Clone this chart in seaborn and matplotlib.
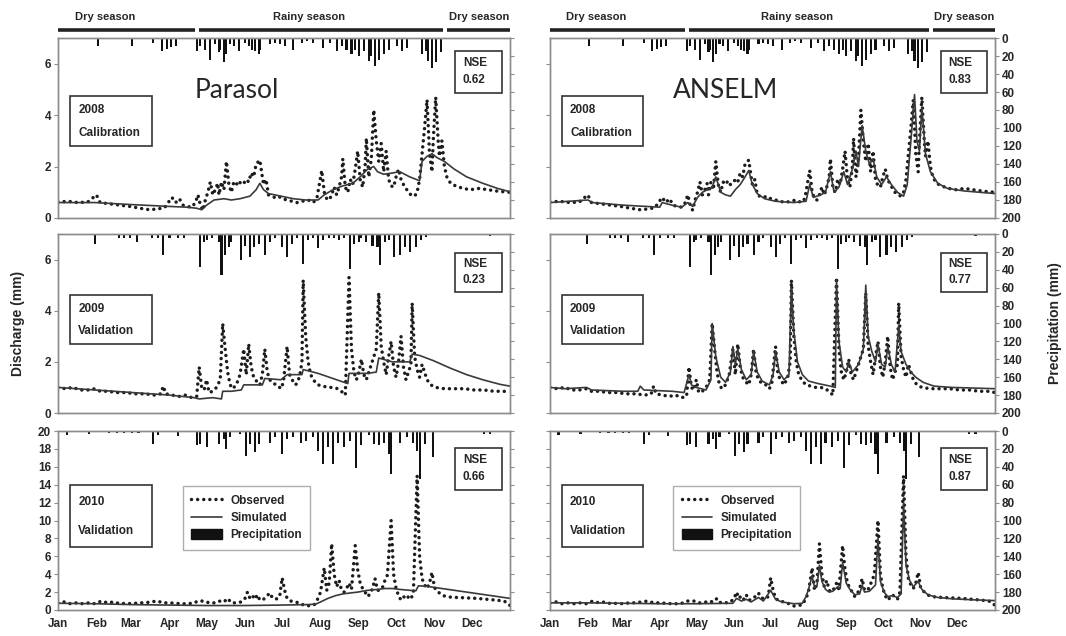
import matplotlib
matplotlib.use("Agg")
import matplotlib.pyplot as plt
import seaborn as sns
from matplotlib.patches import Rectangle, Patch
from matplotlib.lines import Line2D

# ---------------- data ----------------
month_ticks = [0, 31, 59, 90, 120, 151, 181, 212, 243, 273, 304, 334]
month_labels = ["Jan", "Feb", "Mar", "Apr", "May", "Jun", "Jul", "Aug", "Sep", "Oct", "Nov", "Dec"]
years = ["2008", "2009", "2010"]
periods = ["Calibration", "Validation", "Validation"]
models = ["Parasol", "ANSELM"]
nse_parasol = ["0.62", "0.23", "0.66"]
nse_anselm = ["0.83", "0.77", "0.87"]
season_names = ["Dry season", "Rainy season", "Dry season"]
season_start = [0, 114, 314]
season_end = [111, 311, 365]
season_label_day = [38, 203, 340]

# precipitation events (day of year, mm)
precip2008_day = [32, 60, 77, 84, 88, 91, 95, 112, 115, 119, 123, 127, 130, 131, 134, 136, 139, 142, 146, 151, 154,
                  157, 159, 162, 163, 171, 175, 179, 183, 190, 197, 201, 206, 214, 220, 225, 229, 233, 237, 240,
                  243, 247, 251, 253, 256, 259, 263, 267, 274, 278, 282, 294, 297, 299, 302, 305, 309]
precip2008_mm = [9, 9, 5, 14, 12, 10, 9, 14, 9, 13, 24, 7, 16, 13, 27, 18, 7, 9, 14, 5, 9,
                 13, 14, 18, 13, 7, 5, 7, 9, 13, 5, 3, 5, 11, 5, 14, 9, 13, 18, 13,
                 20, 14, 26, 20, 31, 24, 18, 13, 9, 14, 11, 18, 14, 26, 33, 27, 16]
precip2009_day = [30, 49, 53, 58, 64, 76, 81, 85, 90, 97, 102, 115, 118, 120, 124, 130, 132, 135, 138, 140, 148,
                  151, 155, 158, 162, 167, 171, 175, 181, 185, 189, 193, 198, 202, 206, 210, 214, 219, 223, 227,
                  231, 236, 239, 243, 245, 249, 254, 258, 260, 264, 267, 271, 276, 280, 284, 289, 293, 297, 349]
precip2009_mm = [11, 4, 4, 4, 9, 4, 5, 24, 4, 4, 4, 37, 9, 7, 5, 9, 46, 24, 14, 9, 29,
                 13, 26, 14, 11, 24, 9, 5, 14, 26, 11, 5, 33, 7, 5, 16, 7, 5, 5, 7,
                 5, 39, 11, 9, 5, 9, 13, 14, 35, 9, 7, 26, 24, 14, 20, 14, 7, 3, 2]
precip2010_day = [7, 25, 41, 48, 53, 60, 65, 77, 81, 97, 112, 115, 120, 130, 134, 136, 139, 147, 152, 155, 159,
                  162, 171, 175, 181, 185, 190, 196, 200, 206, 210, 214, 218, 222, 226, 231, 236, 241, 245, 251,
                  255, 259, 263, 267, 269, 276, 282, 287, 290, 292, 296, 303, 344, 349]
precip2010_mm = [4, 3, 2, 2, 2, 2, 2, 15, 4, 6, 16, 14, 18, 14, 9, 20, 7, 3, 28, 14, 24,
                 14, 13, 7, 26, 9, 7, 13, 11, 7, 22, 37, 18, 37, 13, 18, 11, 41, 16, 5,
                 14, 16, 13, 26, 48, 13, 7, 13, 22, 54, 14, 29, 3, 3]

# observed discharge (mm)
obs2008_day = [0, 8, 16, 24, 31, 34, 42, 50, 58, 66, 74, 80, 86, 89, 92, 95, 98, 101, 104, 108, 111, 113, 115, 117,
               119, 121, 123, 125, 127, 129, 130, 132, 134, 136, 138, 140, 142, 144, 146, 148, 150, 152, 154, 156,
               158, 160, 163, 165, 166, 168, 170, 172, 175, 178, 181, 185, 189, 193, 197, 202, 206, 209, 211, 213,
               215, 217, 219, 221, 223, 225, 227, 229, 230, 232, 234, 236, 238, 240, 242, 244, 246, 248, 249, 251,
               253, 255, 257, 259, 261, 263, 265, 267, 269, 271, 273, 275, 277, 279, 281, 283, 285, 288, 290, 292,
               294, 296, 298, 300, 302, 303, 305, 307, 308, 310, 312, 314, 317, 321, 327, 333, 340, 347, 354, 360, 365]
obs2008_val = [0.62, 0.65, 0.6, 0.62, 0.9, 0.6, 0.55, 0.5, 0.45, 0.38, 0.32, 0.35, 0.4, 0.6, 0.8, 0.6, 0.75, 0.5,
               0.45, 0.42, 0.6, 0.9, 0.5, 0.3, 0.7, 1.0, 1.4, 0.9, 1.1, 1.35, 0.9, 1.4, 1.1, 2.2, 1.3, 1.0, 1.4, 1.3,
               1.45, 1.3, 1.35, 1.5, 1.4, 1.75, 1.6, 2.1, 2.25, 1.6, 1.3, 1.5, 0.9, 0.85, 0.8, 0.85, 0.75, 0.7, 0.65,
               0.6, 0.65, 0.7, 0.6, 0.75, 1.3, 1.85, 1.0, 0.75, 0.7, 0.9, 1.2, 0.9, 1.2, 1.6, 2.3, 1.2, 1.0, 1.5,
               1.3, 1.9, 2.6, 1.5, 1.2, 2.0, 3.1, 1.6, 2.3, 4.2, 3.0, 2.2, 2.9, 1.8, 2.6, 1.5, 1.25, 1.2, 1.6, 1.9,
               1.5, 1.3, 1.15, 1.0, 0.9, 0.85, 1.0, 1.5, 2.5, 3.5, 4.6, 2.5, 1.8, 3.0, 4.7, 3.0, 2.4, 3.0, 2.0, 1.6,
               1.35, 1.25, 1.15, 1.1, 1.15, 1.1, 1.05, 1.02, 1.0]
obs2009_day = [0, 6, 12, 18, 24, 30, 34, 40, 48, 55, 62, 70, 78, 83, 85, 87, 92, 98, 103, 108, 112, 114, 116, 118,
               120, 122, 125, 128, 131, 133, 135, 137, 139, 141, 144, 147, 150, 152, 154, 156, 158, 161, 163, 165,
               167, 169, 171, 174, 177, 180, 182, 185, 187, 189, 192, 195, 197, 198, 200, 202, 204, 207, 210, 214,
               218, 222, 226, 230, 232, 235, 237, 239, 241, 243, 245, 247, 249, 251, 253, 255, 257, 259, 261, 263,
               265, 267, 269, 271, 273, 275, 277, 279, 281, 283, 285, 286, 288, 290, 292, 294, 296, 298, 301, 305,
               312, 320, 328, 336, 344, 352, 360, 365]
obs2009_val = [1.0, 0.95, 1.0, 0.9, 0.9, 0.95, 0.85, 0.85, 0.8, 0.8, 0.75, 0.75, 0.7, 0.75, 1.05, 0.75, 0.7, 0.65,
               0.7, 0.6, 0.65, 1.8, 1.0, 0.9, 1.3, 0.8, 0.85, 1.0, 1.3, 3.5, 2.5, 1.6, 1.1, 0.95, 1.1, 1.5, 2.5, 1.5,
               2.7, 1.8, 1.4, 1.2, 1.1, 1.5, 2.5, 1.6, 1.3, 1.15, 1.1, 0.95, 1.2, 2.6, 1.5, 1.3, 1.1, 1.4, 2.0, 5.2,
               3.0, 2.0, 1.5, 1.25, 1.1, 1.05, 1.0, 1.0, 0.95, 0.8, 0.7, 5.3, 2.5, 1.6, 1.3, 1.6, 2.1, 1.5, 1.3, 1.6,
               1.9, 2.2, 2.5, 4.7, 2.6, 2.0, 1.5, 2.2, 2.8, 1.8, 1.4, 2.0, 3.0, 1.8, 1.3, 1.6, 1.9, 4.3, 2.2, 1.7,
               1.4, 1.9, 1.6, 1.3, 1.1, 1.0, 0.95, 0.95, 0.95, 0.9, 0.9, 0.85, 0.85, 0.8]
obs2010_day = [0, 5, 10, 15, 20, 25, 30, 35, 40, 45, 50, 55, 60, 65, 70, 75, 80, 85, 90, 95, 100, 105, 110, 113, 118,
               122, 126, 130, 134, 137, 140, 144, 148, 151, 153, 155, 157, 159, 161, 163, 166, 169, 171, 173, 176,
               179, 181, 183, 185, 188, 192, 196, 200, 204, 207, 210, 212, 215, 217, 219, 221, 223, 225, 227, 229,
               231, 233, 235, 237, 240, 242, 244, 246, 248, 250, 252, 254, 256, 258, 260, 262, 264, 266, 269, 271,
               273, 275, 277, 279, 281, 283, 285, 287, 290, 292, 294, 296, 298, 300, 302, 304, 307, 311, 316, 322,
               330, 338, 346, 354, 360, 363, 365]
obs2010_val = [0.8, 0.9, 0.7, 0.8, 0.7, 0.8, 0.7, 1.0, 0.8, 0.9, 0.7, 0.75, 0.7, 0.8, 0.8, 0.9, 1.0, 0.8, 0.8, 0.75,
               0.7, 0.7, 0.8, 1.0, 1.0, 0.8, 0.8, 1.0, 0.9, 1.3, 0.8, 0.8, 0.9, 1.3, 2.0, 1.3, 1.6, 1.2, 1.7, 1.1,
               1.2, 1.6, 1.9, 1.4, 1.2, 1.5, 3.6, 2.2, 1.3, 1.0, 0.9, 0.7, 0.45, 0.5, 0.6, 1.3, 2.0, 4.7, 2.2, 3.0,
               7.4, 4.0, 2.6, 3.3, 2.2, 2.0, 2.4, 3.0, 2.3, 7.2, 4.5, 3.0, 2.4, 2.0, 1.5, 1.8, 2.4, 3.5, 2.2, 2.2,
               2.5, 3.3, 3.9, 10.0, 4.0, 2.4, 1.6, 1.1, 1.4, 1.7, 1.4, 1.2, 2.0, 15.0, 6.0, 3.5, 2.8, 2.4, 3.0,
               4.2, 2.5, 2.0, 1.6, 1.45, 1.4, 1.35, 1.3, 1.2, 1.1, 1.0, 0.8, 0.5]

# simulated discharge, Parasol
par2008_day = [0, 30, 60, 90, 104, 112, 116, 120, 126, 134, 140, 147, 155, 160, 163, 166, 170, 180, 190, 200, 210,
               215, 222, 230, 238, 244, 250, 255, 258, 263, 270, 276, 284, 292, 294, 298, 302, 306, 312, 320, 330,
               343, 355, 365]
par2008_val = [0.6, 0.6, 0.52, 0.45, 0.42, 0.38, 0.32, 0.5, 0.7, 0.75, 0.7, 0.75, 0.85, 1.1, 1.35, 1.1, 0.95, 0.85,
               0.75, 0.7, 0.7, 0.9, 1.1, 1.25, 1.35, 1.6, 1.9, 2.0, 1.8, 1.7, 1.75, 1.8, 1.6, 1.45, 2.2, 2.4, 2.5,
               2.35, 2.2, 1.9, 1.6, 1.35, 1.15, 1.02]
par2009_day = [0, 30, 60, 90, 110, 114, 125, 132, 133, 140, 148, 150, 165, 167, 180, 185, 197, 198, 210, 222, 234,
               235, 250, 257, 259, 270, 284, 286, 292, 303, 317, 330, 343, 357, 365]
par2009_val = [1.0, 0.9, 0.8, 0.7, 0.6, 0.55, 0.6, 0.55, 0.85, 0.85, 0.9, 1.1, 1.1, 1.35, 1.3, 1.5, 1.5, 1.7, 1.55,
               1.35, 1.15, 1.55, 1.55, 1.6, 2.15, 2.0, 2.0, 2.3, 2.25, 2.05, 1.75, 1.5, 1.3, 1.12, 1.05]
par2010_day = [0, 30, 60, 90, 120, 150, 180, 200, 208, 212, 218, 224, 230, 236, 242, 250, 258, 264, 270, 276, 284,
               289, 291, 298, 305, 315, 330, 345, 365]
par2010_val = [0.75, 0.7, 0.6, 0.55, 0.5, 0.5, 0.55, 0.6, 0.65, 0.9, 1.3, 1.6, 1.8, 1.9, 2.0, 2.2, 2.3, 2.4, 2.4,
               2.3, 2.2, 2.15, 2.7, 2.65, 2.5, 2.3, 2.0, 1.7, 1.3]

# simulated discharge, ANSELM
ans2008_day = [0, 31, 35, 60, 90, 92, 96, 100, 108, 113, 117, 121, 125, 129, 133, 136, 140, 144, 148, 152, 156, 160,
               163, 166, 170, 176, 185, 200, 210, 213, 216, 222, 226, 230, 233, 237, 241, 244, 248, 251, 253, 256,
               259, 262, 265, 268, 272, 276, 280, 285, 290, 293, 296, 299, 301, 303, 305, 308, 312, 318, 326, 340, 365]
ans2008_val = [0.6, 0.7, 0.6, 0.5, 0.42, 0.6, 0.55, 0.5, 0.42, 0.6, 0.45, 0.8, 1.0, 1.1, 1.2, 1.6, 1.0, 0.9, 0.85,
               1.1, 1.3, 1.6, 1.85, 1.3, 0.95, 0.75, 0.65, 0.6, 0.65, 1.3, 0.8, 0.9, 1.0, 1.8, 1.0, 1.2, 1.8, 1.3,
               1.9, 2.6, 2.0, 3.6, 2.6, 2.1, 2.3, 1.6, 1.3, 1.6, 1.3, 1.0, 0.85, 1.3, 3.0, 4.8, 3.0, 2.6, 4.3, 2.5,
               1.8, 1.35, 1.15, 1.05, 0.95]
ans2009_day = [0, 12, 30, 34, 60, 72, 74, 77, 100, 110, 114, 116, 120, 128, 132, 133, 136, 140, 144, 148, 150, 152,
               154, 157, 161, 165, 167, 170, 174, 180, 183, 185, 188, 192, 196, 198, 200, 203, 207, 212, 220, 230,
               234, 235, 237, 240, 243, 245, 248, 253, 257, 259, 261, 264, 267, 269, 272, 275, 277, 280, 283, 286,
               288, 292, 296, 300, 306, 315, 330, 365]
ans2009_val = [1.0, 0.95, 1.0, 0.9, 0.85, 0.85, 1.05, 0.9, 0.85, 0.8, 1.5, 1.1, 1.0, 0.9, 1.3, 3.5, 2.2, 1.4, 1.2,
               1.6, 2.6, 1.9, 2.5, 1.7, 1.3, 1.5, 2.4, 1.6, 1.25, 1.1, 1.5, 2.4, 1.6, 1.3, 1.5, 4.9, 3.2, 2.0, 1.5,
               1.25, 1.15, 1.05, 1.0, 5.2, 2.8, 1.8, 1.6, 2.0, 1.6, 1.9, 2.5, 5.0, 3.0, 2.4, 2.0, 2.7, 1.9, 1.8, 2.6,
               1.9, 1.6, 3.4, 2.4, 1.9, 1.6, 1.4, 1.2, 1.05, 1.0, 0.95]
ans2010_day = [0, 30, 60, 90, 120, 150, 153, 157, 161, 165, 171, 175, 181, 185, 190, 200, 207, 210, 212, 215, 217,
               219, 221, 223, 226, 229, 232, 236, 238, 240, 243, 246, 250, 254, 256, 258, 262, 267, 269, 271, 274,
               277, 281, 285, 288, 290, 292, 295, 298, 302, 305, 310, 318, 330, 345, 365]
ans2010_val = [0.8, 0.8, 0.75, 0.7, 0.7, 0.75, 1.3, 1.0, 1.2, 0.9, 1.4, 1.0, 2.2, 1.2, 0.9, 0.7, 0.75, 1.5, 2.3, 3.8,
               2.5, 2.7, 5.0, 3.2, 2.3, 2.0, 2.1, 2.6, 2.4, 5.3, 3.0, 2.3, 1.7, 1.8, 2.8, 2.0, 2.1, 2.8, 8.0, 3.2,
               2.0, 1.5, 1.6, 1.4, 1.8, 12.0, 5.0, 3.3, 2.6, 3.2, 2.3, 1.7, 1.4, 1.25, 1.15, 1.05]

obs = [(obs2008_day, obs2008_val), (obs2009_day, obs2009_val), (obs2010_day, obs2010_val)]
sims = {
    "Parasol": [(par2008_day, par2008_val), (par2009_day, par2009_val), (par2010_day, par2010_val)],
    "ANSELM": [(ans2008_day, ans2008_val), (ans2009_day, ans2009_val), (ans2010_day, ans2010_val)],
}
precip = [(precip2008_day, precip2008_mm), (precip2009_day, precip2009_mm), (precip2010_day, precip2010_mm)]
nse = {"Parasol": nse_parasol, "ANSELM": nse_anselm}

# ---------------- styling / layout ----------------
sns.set_theme(style="white")
plt.rcParams["font.family"] = ["Liberation Sans", "DejaVu Sans"]
plt.rcParams["font.weight"] = "bold"

W, H = 1066, 636
col_x = [(58, 510), (550, 995)]
row_y = [(38, 218), (234, 413), (431, 610)]
ylims = [7, 7, 20]
yticks = [[0, 2, 4, 6], [0, 2, 4, 6], list(range(0, 21, 2))]
year_box = [(0.027, 0.40, 0.208, 0.678), (0.027, 0.385, 0.208, 0.66), (0.027, 0.352, 0.208, 0.698)]
nse_box = [(0.878, 0.694, 0.982, 0.928), (0.878, 0.676, 0.982, 0.894), (0.878, 0.67, 0.982, 0.905)]

OBS_COLOR = "#1c1c1c"
SIM_COLOR = "#3a3a3a"
DOT_STYLE = (0, (0.01, 1.75))
SPINE = "#8c8c8c"

fig = plt.figure(figsize=(W / 100, H / 100), dpi=100)
fig.patch.set_facecolor("white")

for r in range(3):
    for c, model in enumerate(models):
        x0, x1 = col_x[c]
        y0, y1 = row_y[r]
        ax = fig.add_axes([x0 / W, 1 - y1 / H, (x1 - x0) / W, (y1 - y0) / H])
        ax2 = ax.twinx()
        ax.set_zorder(ax2.get_zorder() + 1)
        ax.patch.set_visible(False)

        # precipitation bars hanging from the top
        pd_, pm_ = precip[r]
        ax2.bar(pd_, pm_, width=1.7, color="#111111", linewidth=0)
        ax2.set_ylim(200, 0)
        ax2.set_yticks(range(0, 201, 20))
        ax2.tick_params(axis="y", direction="out", length=3, width=0.8, color=SPINE,
                        labelsize=8.5, labelright=(c == 1), pad=2)

        # observed (dotted) and simulated (solid)
        od, ov = obs[r]
        sns.lineplot(x=od, y=ov, ax=ax, color=OBS_COLOR, linewidth=2.5, linestyle=DOT_STYLE,
                     dash_capstyle="round", sort=False, estimator=None)
        sd, sv = sims[model][r]
        sns.lineplot(x=sd, y=sv, ax=ax, color=SIM_COLOR, linewidth=1.2, sort=False, estimator=None)

        ax.set_xlim(0, 365)
        ax.set_ylim(0, ylims[r])
        ax.set_yticks(yticks[r])
        ax.tick_params(axis="y", direction="out", length=3, width=0.8, color=SPINE,
                       labelsize=8.5, labelleft=(c == 0), pad=2)
        ax.set_xticks(month_ticks)
        if r == 2:
            ax.set_xticklabels(month_labels, fontsize=8.5)
            ax.tick_params(axis="x", direction="out", length=3, width=0.8, color=SPINE, pad=3)
        else:
            ax.tick_params(axis="x", length=0, labelbottom=False)
        ax.set_xlabel("")
        ax.set_ylabel("")
        for a in (ax, ax2):
            for s in a.spines.values():
                s.set_color(SPINE)
                s.set_linewidth(1.0)

        # year / period box
        bx0, by0, bx1, by1 = year_box[r]
        ax.add_patch(Rectangle((bx0, by0), bx1 - bx0, by1 - by0, transform=ax.transAxes,
                               fill=True, facecolor="white", edgecolor="#333333", linewidth=1.2, zorder=5))
        bh = by1 - by0
        ax.text(bx0 + 0.018, by1 - 0.28 * bh, years[r], transform=ax.transAxes, fontsize=8.5,
                ha="left", va="center", zorder=6)
        ax.text(bx0 + 0.018, by1 - 0.74 * bh, periods[r], transform=ax.transAxes, fontsize=8.5,
                ha="left", va="center", zorder=6)

        # NSE box
        nx0, ny0, nx1, ny1 = nse_box[r]
        ax.add_patch(Rectangle((nx0, ny0), nx1 - nx0, ny1 - ny0, transform=ax.transAxes,
                               fill=True, facecolor="white", edgecolor="#333333", linewidth=1.2, zorder=5))
        nh = ny1 - ny0
        ax.text(nx0 + 0.018, ny1 - 0.28 * nh, "NSE", transform=ax.transAxes, fontsize=8.5,
                ha="left", va="center", zorder=6)
        ax.text(nx0 + 0.018, ny1 - 0.70 * nh, nse[model][r], transform=ax.transAxes, fontsize=8.5,
                ha="left", va="center", zorder=6)

        if r == 0:
            ax.text(0.395, 0.71, model, transform=ax.transAxes, fontsize=19, fontweight="normal",
                    family=["Lato", "DejaVu Sans"], ha="center", va="center")
            tr = ax.get_xaxis_transform()
            for name, s0, s1, lx in zip(season_names, season_start, season_end, season_label_day):
                ax.plot([s0, s1], [1.042, 1.042], transform=tr, color="#222222", linewidth=2.6,
                        solid_capstyle="butt", clip_on=False)
                ax.text(lx, 1.115, name, transform=tr, fontsize=8, ha="center", va="center")

        if r == 2:
            handles = [Line2D([], [], color=OBS_COLOR, linewidth=2.5, linestyle=DOT_STYLE, dash_capstyle="round"),
                       Line2D([], [], color=SIM_COLOR, linewidth=1.2),
                       Patch(facecolor="#111111", edgecolor="#111111")]
            leg = ax.legend(handles, ["Observed", "Simulated", "Precipitation"], loc="upper left",
                            bbox_to_anchor=(0.277, 0.69), frameon=True, fancybox=False, fontsize=8.5,
                            handlelength=2.6, handleheight=0.9, labelspacing=0.45, borderpad=0.7,
                            handletextpad=0.7, borderaxespad=0)
            leg.get_frame().set_edgecolor("#999999")
            leg.get_frame().set_linewidth(1.0)
            leg.set_zorder(7)

fig.text(18 / W, 1 - 323 / H, "Discharge (mm)", rotation=90, ha="center", va="center", fontsize=10)
fig.text(1055 / W, 1 - 323 / H, "Precipitation (mm)", rotation=90, ha="center", va="center", fontsize=10)

fig.savefig("out.png", dpi=100, facecolor="white")
